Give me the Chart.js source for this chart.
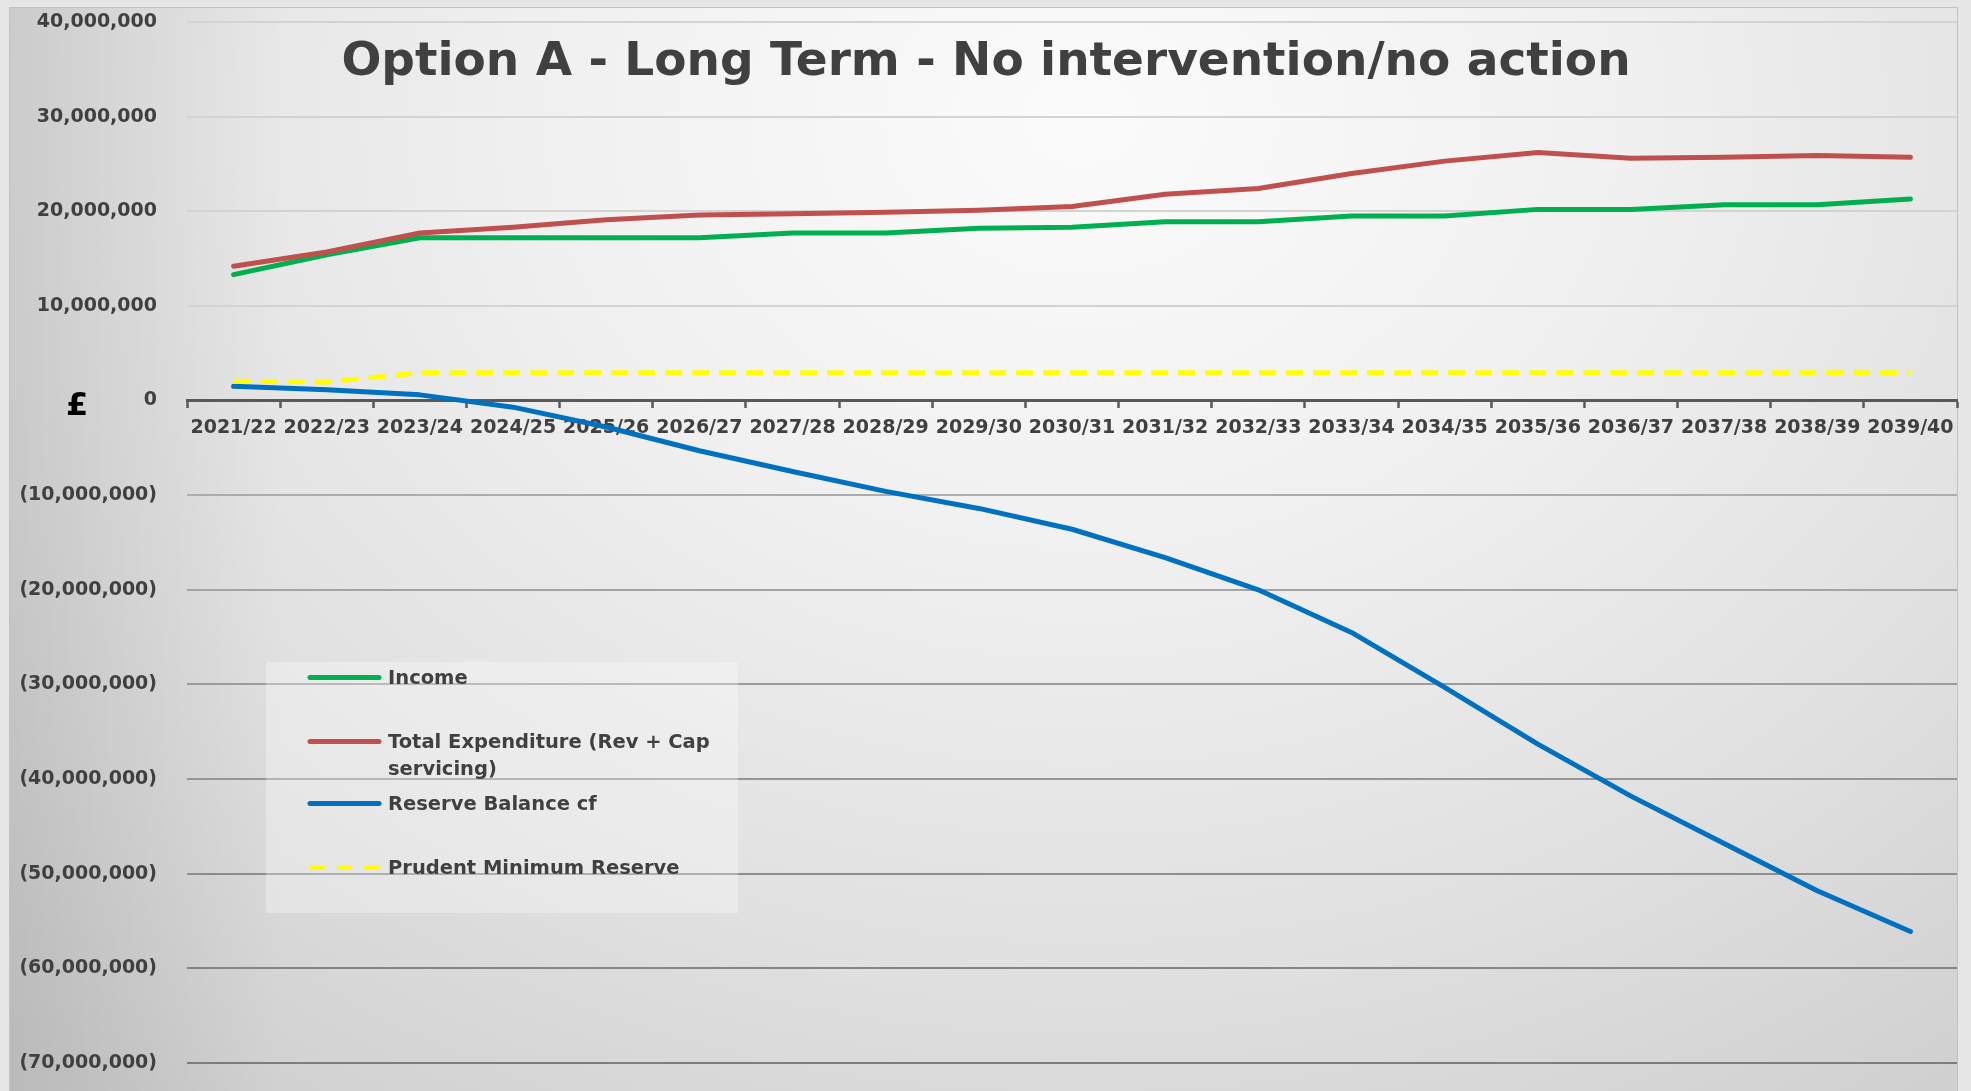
<!DOCTYPE html>
<html>
<head>
<meta charset="utf-8">
<title>Option A - Long Term - No intervention/no action</title>
<script src="https://cdn.jsdelivr.net/npm/chart.js@4/dist/chart.umd.min.js"></script>
<style>
  html, body { margin: 0; padding: 0; width: 1971px; height: 1091px; overflow: hidden; background: #e6e6e6; }
  #panel {
    position: absolute; left: 9px; top: 7px; width: 1949px; height: 1090px;
    border: 1px solid #c2c2c2; box-sizing: border-box;
    background:
      linear-gradient(to right, rgba(0,0,0,0.09) 0%, rgba(0,0,0,0) 14%),
      radial-gradient(ellipse 80% 115% at 55% 10%, #fbfbfb 0%, #f0f0f0 35%, #e0e0e0 68%, #cdcdcd 100%);
  }
  #chart { position: absolute; left: 0; top: 0; }
  .txt { font-family: "DejaVu Sans", sans-serif; font-weight: bold; color: #404040; }
  #title { position: absolute; left: 0; top: 35px; width: 1972px; text-align: center; font-size: 47px; line-height: 47px; white-space: nowrap; }
  #currency { position: absolute; left: 66px; top: 388px; font-size: 32px; line-height: 32px; color: #000; }
  #legend { position: absolute; left: 266px; top: 662px; width: 472px; height: 251px; background: rgba(255,255,255,0.3); }
  .item { position: absolute; left: 0; width: 472px; }
  .item svg { position: absolute; left: 40px; top: 0; }
  .item .label { position: absolute; left: 122px; width: 340px; font-size: 19.5px; line-height: 27px; }
</style>
</head>
<body>
<div id="panel"></div>
<canvas id="chart" width="1971" height="1091"></canvas>
<div id="title" class="txt">Option A - Long Term - No intervention/no action</div>
<div id="currency" class="txt">£</div>
<div id="legend"></div>
<script>
// Financial years on the category axis
const categories = ['2021/22', '2022/23', '2023/24', '2024/25', '2025/26', '2026/27', '2027/28',
  '2028/29', '2029/30', '2030/31', '2031/32', '2032/33', '2033/34', '2034/35', '2035/36',
  '2036/37', '2037/38', '2038/39', '2039/40'];

// Series values (£)
const income = [13300000, 15400000, 17200000, 17200000, 17200000, 17200000, 17700000,
  17700000, 18200000, 18300000, 18900000, 18900000, 19500000, 19500000, 20200000,
  20200000, 20700000, 20700000, 21300000];

const totalExpenditure = [14200000, 15700000, 17700000, 18300000, 19100000, 19600000, 19750000,
  19900000, 20100000, 20500000, 21800000, 22400000, 24000000, 25300000, 26200000,
  25600000, 25700000, 25900000, 25700000];

const reserveBalance = [1500000, 1150000, 600000, -700000, -2800000, -5300000, -7500000,
  -9600000, -11400000, -13600000, -16600000, -20000000, -24500000, -30300000, -36300000,
  -41800000, -46800000, -51800000, -56100000];

const prudentMinimum = [2050000, 1950000, 2950000, 2950000, 2950000, 2950000, 2950000,
  2950000, 2950000, 2950000, 2950000, 2950000, 2950000, 2950000, 2950000,
  2950000, 2950000, 2950000, 2950000];

// Value axis ticks
const yTickValues = [40000000, 30000000, 20000000, 10000000, 0, -10000000, -20000000,
  -30000000, -40000000, -50000000, -60000000, -70000000];

const seriesNames = ['Income', 'Total Expenditure (Rev + Cap servicing)', 'Reserve Balance cf', 'Prudent Minimum Reserve'];

function formatAmount(v) {
  const s = Math.abs(v).toString().replace(/\B(?=(\d{3})+(?!\d))/g, ',');
  return v < 0 ? '(' + s + ')' : s;
}

function gridColour(ctx) {
  const v = ctx.tick ? ctx.tick.value : 0;
  if (v >= 0) return '#d3d3d3';
  const t = Math.min(1, -v / 70000000);
  const g = Math.round(180 - t * 55);
  return 'rgb(' + g + ',' + g + ',' + g + ')';
}

const axisFont = { family: 'DejaVu Sans', weight: 'bold', size: 19 };

const chart = new Chart(document.getElementById('chart'), {
  type: 'line',
  data: {
    labels: categories,
    datasets: [
      { label: seriesNames[0], data: income, borderColor: '#00B050', order: 4 },
      { label: seriesNames[1], data: totalExpenditure, borderColor: '#C0504D', order: 3 },
      { label: seriesNames[2], data: reserveBalance, borderColor: '#0070C0', order: 2 },
      { label: seriesNames[3], data: prudentMinimum, borderColor: '#FFFF00', borderDash: [17, 10], borderCapStyle: 'butt', order: 1 }
    ]
  },
  options: {
    responsive: false,
    animation: false,
    devicePixelRatio: 1,
    layout: { padding: { left: 10, right: 14, top: 22, bottom: 28 } },
    elements: {
      point: { radius: 0, hoverRadius: 0 },
      line: { tension: 0, borderWidth: 5, borderCapStyle: 'round', borderJoinStyle: 'round', fill: false }
    },
    plugins: {
      legend: { display: false },
      tooltip: { enabled: false },
      title: { display: false }
    },
    scales: {
      x: {
        type: 'category',
        position: { y: 0 },
        offset: true,
        grid: { display: true, offset: true, drawOnChartArea: false, drawTicks: true, tickLength: 6, tickWidth: 2.5, tickColor: '#595959' },
        border: { display: true, color: '#595959', width: 3 },
        ticks: { color: '#404040', font: axisFont, padding: 10, maxRotation: 0, minRotation: 0, autoSkip: false },
        afterFit: (scale) => { scale.height = 0; }
      },
      y: {
        min: -70000000,
        max: 40000000,
        afterBuildTicks: (scale) => { scale.ticks = yTickValues.map(v => ({ value: v })); },
        // transparent tick marks keep the labels clear of the plot edge
        grid: { color: gridColour, lineWidth: 2, drawTicks: true, tickLength: 30, tickColor: 'rgba(0,0,0,0)' },
        border: { display: false },
        ticks: { color: '#404040', font: axisFont, padding: 0, callback: (v) => formatAmount(v) },
        afterFit: (scale) => { scale.width = 177; }
      }
    }
  }
});

// Legend built from the chart's datasets
(function buildLegend() {
  const box = document.getElementById('legend');
  const rowCentres = [15.7, 79, 141, 205.7];
  chart.data.datasets.forEach((ds, i) => {
    const item = document.createElement('div');
    item.className = 'item';
    item.style.top = (rowCentres[i] - 13.5) + 'px';
    const svgNS = 'http://www.w3.org/2000/svg';
    const svg = document.createElementNS(svgNS, 'svg');
    svg.setAttribute('width', '80');
    svg.setAttribute('height', '27');
    const line = document.createElementNS(svgNS, 'line');
    line.setAttribute('x1', '4'); line.setAttribute('x2', '73');
    line.setAttribute('y1', '13.5'); line.setAttribute('y2', '13.5');
    line.setAttribute('stroke', ds.borderColor);
    line.setAttribute('stroke-width', '5');
    if (ds.borderDash) {
      line.setAttribute('stroke-dasharray', '15 12');
      line.setAttribute('stroke-linecap', 'butt');
    } else {
      line.setAttribute('stroke-linecap', 'round');
    }
    svg.appendChild(line);
    item.appendChild(svg);
    const label = document.createElement('div');
    label.className = 'label txt';
    label.textContent = ds.label;
    item.appendChild(label);
    box.appendChild(item);
  });
})();
</script>
</body>
</html>
